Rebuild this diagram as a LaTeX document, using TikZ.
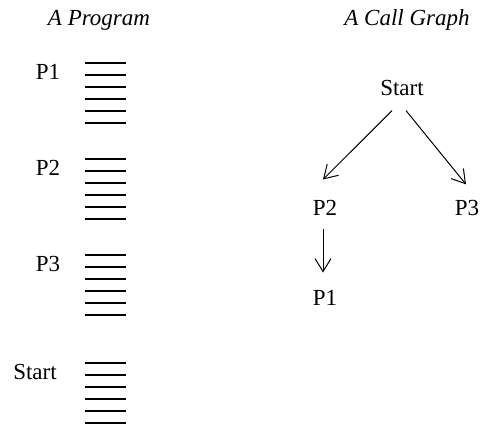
\documentclass[tikz,border=0pt]{standalone}
\usepackage{fontspec}
\setmainfont{Liberation Serif}
\usetikzlibrary{arrows.meta}
\begin{document}
\begin{tikzpicture}[x=0.5pt,y=-0.5pt,
  lbl/.style={inner sep=0pt,font=\fontsize{11.5}{13}\selectfont},
  ttl/.style={inner sep=0pt,anchor=base,font=\fontsize{11.5}{13}\selectfont\itshape},
  codeline/.style={line width=0.65pt},
  call/.style={line width=0.5pt,-{Straight Barb[length=6.5pt,width=8pt]}}]
\useasboundingbox (0,0) rectangle (481,426);
% titles
\node[ttl] (t1) at (99,26) {A Program};
\node[ttl] (t2) at (407,26) {A Call Graph};
% program listing
\node[lbl] (lp1) at (48,72) {P1};
\node[lbl] (lp2) at (48,168) {P2};
\node[lbl] (lp3) at (48,264) {P3};
\node[lbl] (lst) at (35,372) {Start};
\foreach \y in {63,159,255,363}{
  \foreach \k in {0,...,5}{
    \draw[codeline] (85,\y+12*\k) -- (126,\y+12*\k);
  }
}
% call graph
\node[lbl] (S) at (402,88) {Start};
\node[lbl] (G2) at (325,208) {P2};
\node[lbl] (G3) at (467,208) {P3};
\node[lbl] (G1) at (325,298) {P1};
\draw[call] ([shift={(-10,14.5)}]S.south) -- ([shift={(-2,-20.5)}]G2.north);
\draw[call] ([shift={(4,14.5)}]S.south) -- ([shift={(-1,-15.5)}]G3.north);
\draw[call] ([shift={(-2,12.5)}]G2.south) -- ([shift={(-2,-17.5)}]G1.north);
\end{tikzpicture}
\end{document}
